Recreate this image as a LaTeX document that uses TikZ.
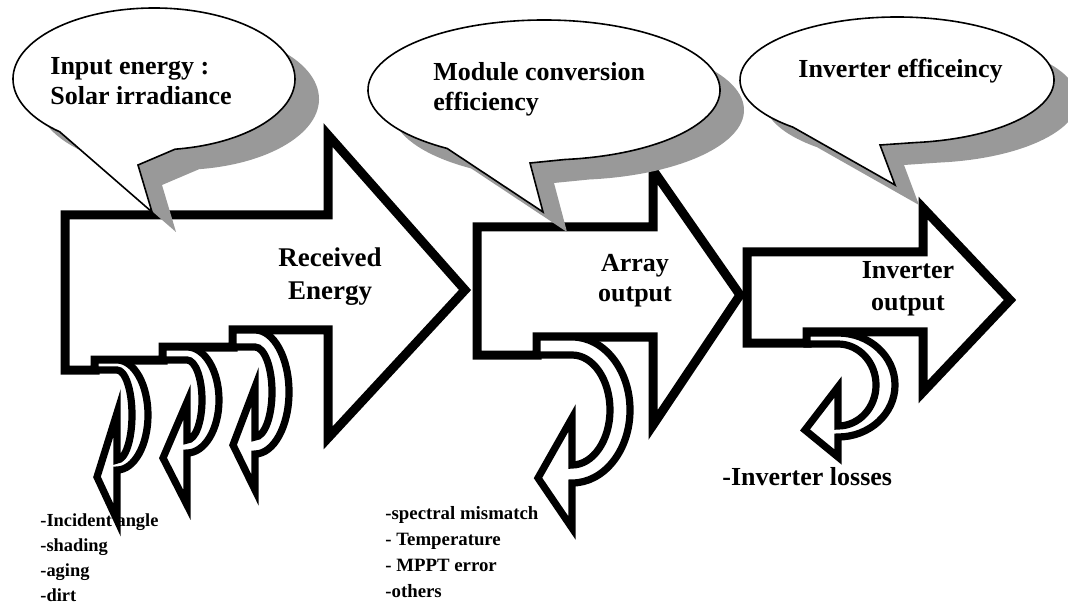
\documentclass[tikz,border=0pt]{standalone}
\usepackage{fontspec}
\setmainfont{Liberation Serif}

\begin{document}
\begin{tikzpicture}[x=0.5pt, y=0.5pt,
  bigarrow/.style={draw, line width=4.5pt, fill=white},
  lossarrow/.style={draw, line width=3.6pt, fill=white},
  bubble/.style={draw, line width=0.8pt, fill=white},
  bubshadow/.style={fill=black!40},
  bigtext/.style={font=\bfseries\fontsize{13}{15}\selectfont, inner sep=0pt},
  listtext/.style={font=\bfseries\fontsize{9.4}{13}\selectfont, inner sep=0pt, align=left, anchor=north west}]
\useasboundingbox (0,0) rectangle (1068,605);
% block arrows
\draw[bigarrow] (65,390) -- (328,390) -- (328,470) -- (465,315) -- (328,167) -- (328,275) -- (233,275) -- (233,258) -- (163,258) -- (163,245) -- (95,245) -- (95,235) -- (65,235) -- cycle;
\draw[bigarrow] (477,378) -- (653,378) -- (653,435) -- (740,310) -- (653,180) -- (653,268) -- (537,268) -- (537,250) -- (477,250) -- cycle;
\draw[bigarrow] (747,353) -- (923,353) -- (923,397) -- (1010,305) -- (923,213) -- (923,273) -- (807,273) -- (807,262) -- (747,262) -- cycle;
% loss arrows
\draw[lossarrow] (95,245) -- (117,245) arc[start angle=90, end angle=-90, x radius=31, y radius=55] -- (117,85) -- (97,128) -- (117,192) -- (117,145) arc[start angle=-90, end angle=90, x radius=15, y radius=45] -- (95,235) -- cycle;
\draw[lossarrow] (163,258) -- (187,258) arc[start angle=90, end angle=-90, x radius=32, y radius=53] -- (187,100) -- (163,147) -- (187,203) -- (187,165) arc[start angle=-90, end angle=90, x radius=15, y radius=40] -- (163,245) -- cycle;
\draw[lossarrow] (233,275) -- (255,275) arc[start angle=90, end angle=-90, x radius=34, y radius=62] -- (255,115) -- (233,160) -- (255,218) -- (255,168) arc[start angle=-90, end angle=90, x radius=17, y radius=45] -- (233,258) -- cycle;
\draw[lossarrow] (537,268) -- (572,268) arc[start angle=90, end angle=-90, x radius=58, y radius=73] -- (572,77) -- (538,127) -- (572,187) -- (572,140) arc[start angle=-90, end angle=90, x radius=38, y radius=55] -- (537,250) -- cycle;
\draw[lossarrow] (807,272) -- (838,272) arc[start angle=90, end angle=-90, x radius=57, y radius=52] -- (838,148) -- (805,175) -- (838,218) -- (838,179) arc[start angle=-90, end angle=90, x radius=38, y radius=41] -- (807,261) -- cycle;
% callouts with shadow
\fill[bubshadow, shift={(24,-20)}] (154,526) ++(278.6:141 and 71) arc[start angle=278.6, end angle=588, x radius=141, y radius=71] -- (152,393) -- (138,440) -- cycle;
\draw[bubble] (154,526) ++(278.6:141 and 71) arc[start angle=278.6, end angle=588, x radius=141, y radius=71] -- (152,393) -- (138,440) -- cycle;
\fill[bubshadow, shift={(24,-20)}] (544,515) ++(276.9:176 and 70) arc[start angle=276.9, end angle=596.6, x radius=176, y radius=70] -- (543,393) -- (530,442) -- cycle;
\draw[bubble] (544,515) ++(276.9:176 and 70) arc[start angle=276.9, end angle=596.6, x radius=176, y radius=70] -- (543,393) -- (530,442) -- cycle;
\fill[bubshadow, shift={(24,-20)}] (897,525) ++(276.6:157 and 63) arc[start angle=276.6, end angle=588.5, x radius=157, y radius=63] -- (895,420) -- (880,460) -- cycle;
\draw[bubble] (897,525) ++(276.6:157 and 63) arc[start angle=276.6, end angle=588.5, x radius=157, y radius=63] -- (895,420) -- (880,460) -- cycle;
% texts
\node[bigtext, align=left, anchor=north west] (input) at (50,548) {Input energy :\\Solar irradiance};
\node[bigtext, align=left, anchor=north west] (module) at (433,543) {Module conversion\\efficiency};
\node[bigtext, anchor=north west] (invbubble) at (798,546) {Inverter efficeincy};
\node[bigtext, font=\bfseries\fontsize{13.5}{16.5}\selectfont, align=center, anchor=north] (received) at (330,358) {Received\\Energy};
\node[bigtext, align=center, anchor=north] (array) at (635,351) {Array\\output};
\node[bigtext, font=\bfseries\fontsize{13}{16}\selectfont, align=center, anchor=north] (invout) at (908,344) {Inverter\\output};
\node[bigtext, anchor=base west] (invloss) at (722,120) {-Inverter losses};
\node[listtext, font=\bfseries\fontsize{9.2}{12.5}\selectfont] (recloss) at (40,92) {-Incident angle\\-shading\\-aging\\-dirt};
\node[listtext] (arrloss) at (385,99) {-spectral mismatch\\- Temperature\\- MPPT error\\-others};
\end{tikzpicture}
\end{document}
